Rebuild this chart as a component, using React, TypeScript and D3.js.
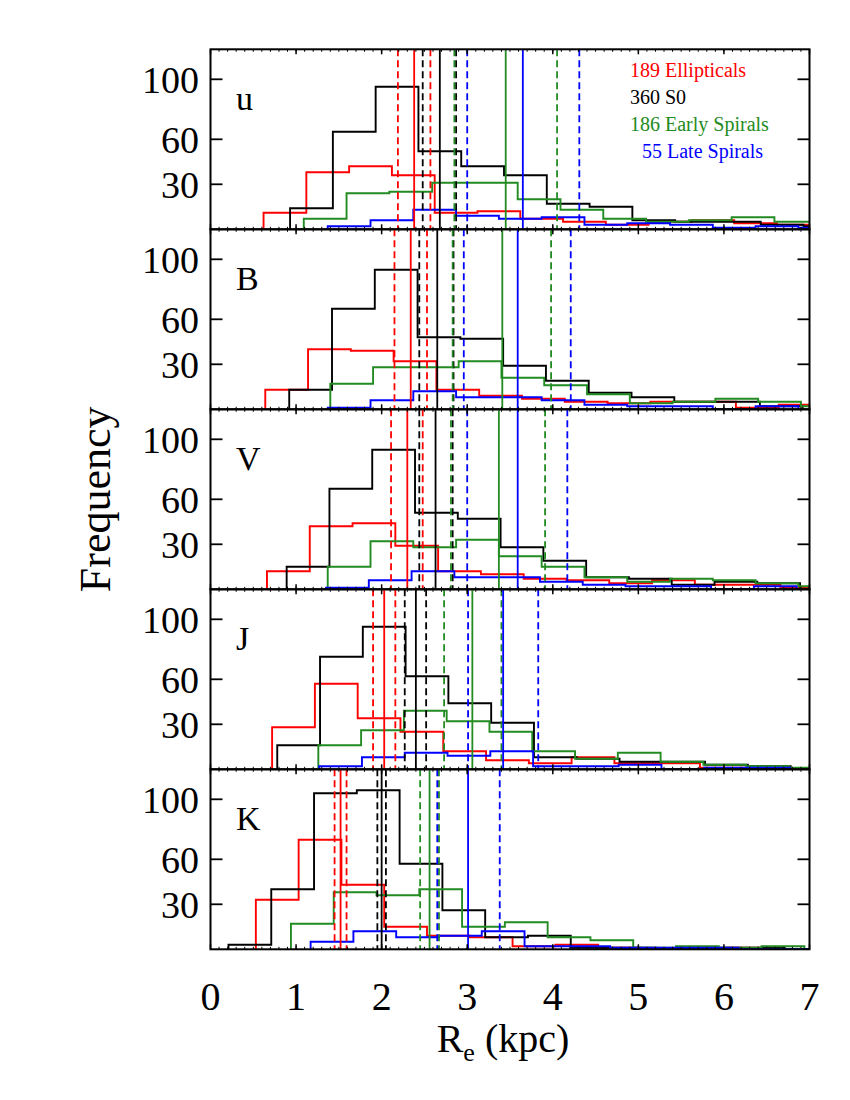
import React from 'react'
import * as d3 from 'd3'

// panels, top to bottom
const bands = ['u', 'B', 'V', 'J', 'K']
const xTicks = [0, 1, 2, 3, 4, 5, 6, 7]
const yTicks = [30, 60, 100]
const binWidth = 0.5

// Ellipticals (red): first bin edge, counts per 0.5 kpc bin, [lower, mean, upper]
const ellStart = [0.62, 0.64, 0.66, 0.72, 0.53]
const ellCounts = [
  [11, 38, 42, 36, 11, 12, 7, 5, 3, 5, 6, 4, 3],
  [13, 40, 39, 32, 13, 9, 7, 5, 4, 5, 5, 1, 3],
  [12, 42, 44, 29, 12, 10, 7, 6, 4, 6, 3, 3, 1],
  [28, 57, 34, 25, 12, 6, 4, 8, 4, 4, 1, 1],
  [33, 73, 43, 15, 9, 8, 2, 3, 1, 0, 0, 1],
]
const ellLines = [
  [2.19, 2.38, 2.57],
  [2.15, 2.34, 2.53],
  [2.11, 2.3, 2.48],
  [1.9, 2.03, 2.16],
  [1.45, 1.52, 1.59],
]

// S0 (black)
const s0Start = [0.93, 0.92, 0.89, 0.78, 0.21]
const s0Counts = [
  [14, 65, 95, 52, 42, 36, 17, 15, 6, 5, 5, 3, 2],
  [13, 67, 93, 48, 47, 29, 19, 11, 8, 5, 5, 2],
  [15, 67, 93, 51, 47, 28, 19, 8, 7, 3, 5, 4],
  [16, 75, 95, 62, 44, 31, 8, 7, 5, 5, 3, 2],
  [3, 40, 104, 106, 57, 26, 8, 9, 1, 1, 0, 1, 1, 0],
]
const s0Lines = [
  [2.48, 2.68, 2.87],
  [2.44, 2.65, 2.84],
  [2.44, 2.63, 2.83],
  [2.27, 2.4, 2.52],
  [1.95, 2.0, 2.05],
]

// Early spirals (green)
const earlyStart = [1.09, 1.4, 1.37, 1.26, 0.94]
const earlyCounts = [
  [7, 24, 25, 31, 31, 20, 13, 7, 5, 6, 8, 5],
  [17, 28, 28, 32, 21, 16, 10, 4, 5, 7, 5, 2],
  [15, 32, 28, 33, 22, 15, 8, 5, 7, 6, 4, 2],
  [16, 26, 39, 32, 25, 12, 7, 11, 5, 3, 2, 1],
  [17, 38, 36, 40, 15, 18, 8, 6, 1, 2, 1, 2],
]
const earlyLines = [
  [2.85, 3.45, 4.05],
  [2.83, 3.41, 3.98],
  [2.81, 3.37, 3.91],
  [2.73, 3.06, 3.4],
  [2.45, 2.56, 2.67],
]

// Late spirals (blue)
const lateStart = [1.37, 1.37, 1.35, 1.27, 1.17]
const lateCounts = [
  [2, 6, 13, 9, 7, 8, 3, 4, 3, 1, 2, 1],
  [1, 6, 12, 8, 8, 6, 3, 2, 2, 0, 2],
  [1, 6, 12, 8, 8, 5, 3, 2, 2, 0, 2],
  [2, 8, 11, 9, 12, 2, 2, 3, 0, 1, 1],
  [5, 12, 8, 9, 12, 2, 2, 1, 1, 1, 0, 0],
]
const lateLines = [
  [3.0, 3.65, 4.31],
  [2.96, 3.59, 4.21],
  [3.0, 3.59, 4.17],
  [3.01, 3.42, 3.83],
  [2.65, 3.01, 3.38],
]

const legendLabels = ['189 Ellipticals', '360 S0', '186 Early Spirals', '55 Late Spirals']

const groups = [
  { color: '#ff0000', start: ellStart, counts: ellCounts, lines: ellLines },
  { color: '#000000', start: s0Start, counts: s0Counts, lines: s0Lines },
  { color: '#228b22', start: earlyStart, counts: earlyCounts, lines: earlyLines },
  { color: '#0000ff', start: lateStart, counts: lateCounts, lines: lateLines },
]

const font = '"Liberation Serif", "Times New Roman", serif'

const left = 210.5, right = 809.5
const top = 49.3, panelH = 180

export default function App() {
  const x = d3.scaleLinear().domain([0, 7]).range([left, right])
  const minor = d3.range(0, 7.001, 0.1)

  const step = d3.line<[number, number]>().curve(d3.curveStepAfter)

  return (
    <svg width={850} height={1100} style={{ position: 'absolute', left: 0, top: 0, background: '#fff' }}
      fontFamily={font}>
      <defs>
        {bands.map((b, i) => (
          <clipPath id={'clip' + i} key={b}>
            <rect x={left} y={top + i * panelH} width={right - left} height={panelH} />
          </clipPath>
        ))}
      </defs>
      {bands.map((band, i) => {
        const y0 = top + i * panelH
        const y = d3.scaleLinear().domain([0, 120]).range([y0 + panelH, y0])
        return (
          <g key={band}>
            <g clipPath={`url(#clip${i})`}>
              {groups.map((g, gi) => {
                const s = g.start[i]
                const c = g.counts[i]
                const pts: [number, number][] = [[x(s), y(0)]]
                c.forEach((v, k) => pts.push([x(s + k * binWidth), y(v)]))
                pts.push([x(s + c.length * binWidth), y(c[c.length - 1])])
                pts.push([x(s + c.length * binWidth), y(0)])
                return <path key={gi} d={step(pts) || ''} fill="none" stroke={g.color} strokeWidth={1.9} />
              })}
              {groups.map((g, gi) =>
                g.lines[i].map((v, k) => (
                  <line key={gi + '-' + k} x1={x(v)} x2={x(v)} y1={y0} y2={y0 + panelH}
                    stroke={g.color} strokeWidth={1.8} strokeDasharray={k === 1 ? undefined : '7,4'} />
                ))
              )}
            </g>
            {/* x ticks top and bottom */}
            {minor.map((t, k) => (
              <g key={'m' + k}>
                <line x1={x(t)} x2={x(t)} y1={y0} y2={y0 + 2.5} stroke="#000" strokeWidth={1} />
                <line x1={x(t)} x2={x(t)} y1={y0 + panelH} y2={y0 + panelH - 2.5} stroke="#000" strokeWidth={1} />
              </g>
            ))}
            {xTicks.map(t => (
              <g key={'M' + t}>
                <line x1={x(t)} x2={x(t)} y1={y0} y2={y0 + 5} stroke="#000" strokeWidth={1.5} />
                <line x1={x(t)} x2={x(t)} y1={y0 + panelH} y2={y0 + panelH - 5} stroke="#000" strokeWidth={1.5} />
              </g>
            ))}
            {yTicks.map(t => (
              <g key={'y' + t}>
                <line x1={left} x2={left + 12} y1={y(t)} y2={y(t)} stroke="#000" strokeWidth={1.8} />
                <line x1={right} x2={right - 12} y1={y(t)} y2={y(t)} stroke="#000" strokeWidth={1.8} />
                <text x={199} y={y(t)} dy="0.35em" textAnchor="end" fontSize={38} fontFamily={font}>{t}</text>
              </g>
            ))}
            <rect x={left} y={y0} width={right - left} height={panelH} fill="none" stroke="#000" strokeWidth={2} />
            <text x={236} y={y0 + 61} fontSize={34} fontFamily={font}>{band}</text>
          </g>
        )
      })}
      {xTicks.map(t => (
        <text key={'xl' + t} x={x(t)} y={1010} textAnchor="middle" fontSize={40} fontFamily={font}>{t}</text>
      ))}
      <text x={503} y={1052} textAnchor="middle" fontSize={40} fontFamily={font}>
        R<tspan fontSize={26} dy={9}>e</tspan><tspan dy={-9}> (kpc)</tspan>
      </text>
      <text transform={`translate(110, ${top + 2.5 * panelH}) rotate(-90)`} textAnchor="middle" fontSize={44}
        fontFamily={font}>Frequency</text>
      {legendLabels.map((l, k) => (
        <text key={l} x={k === 3 ? 642 : 630} y={77 + k * 27} fontSize={20} fill={groups[k].color}
          fontFamily={font}>{l}</text>
      ))}
    </svg>
  )
}
